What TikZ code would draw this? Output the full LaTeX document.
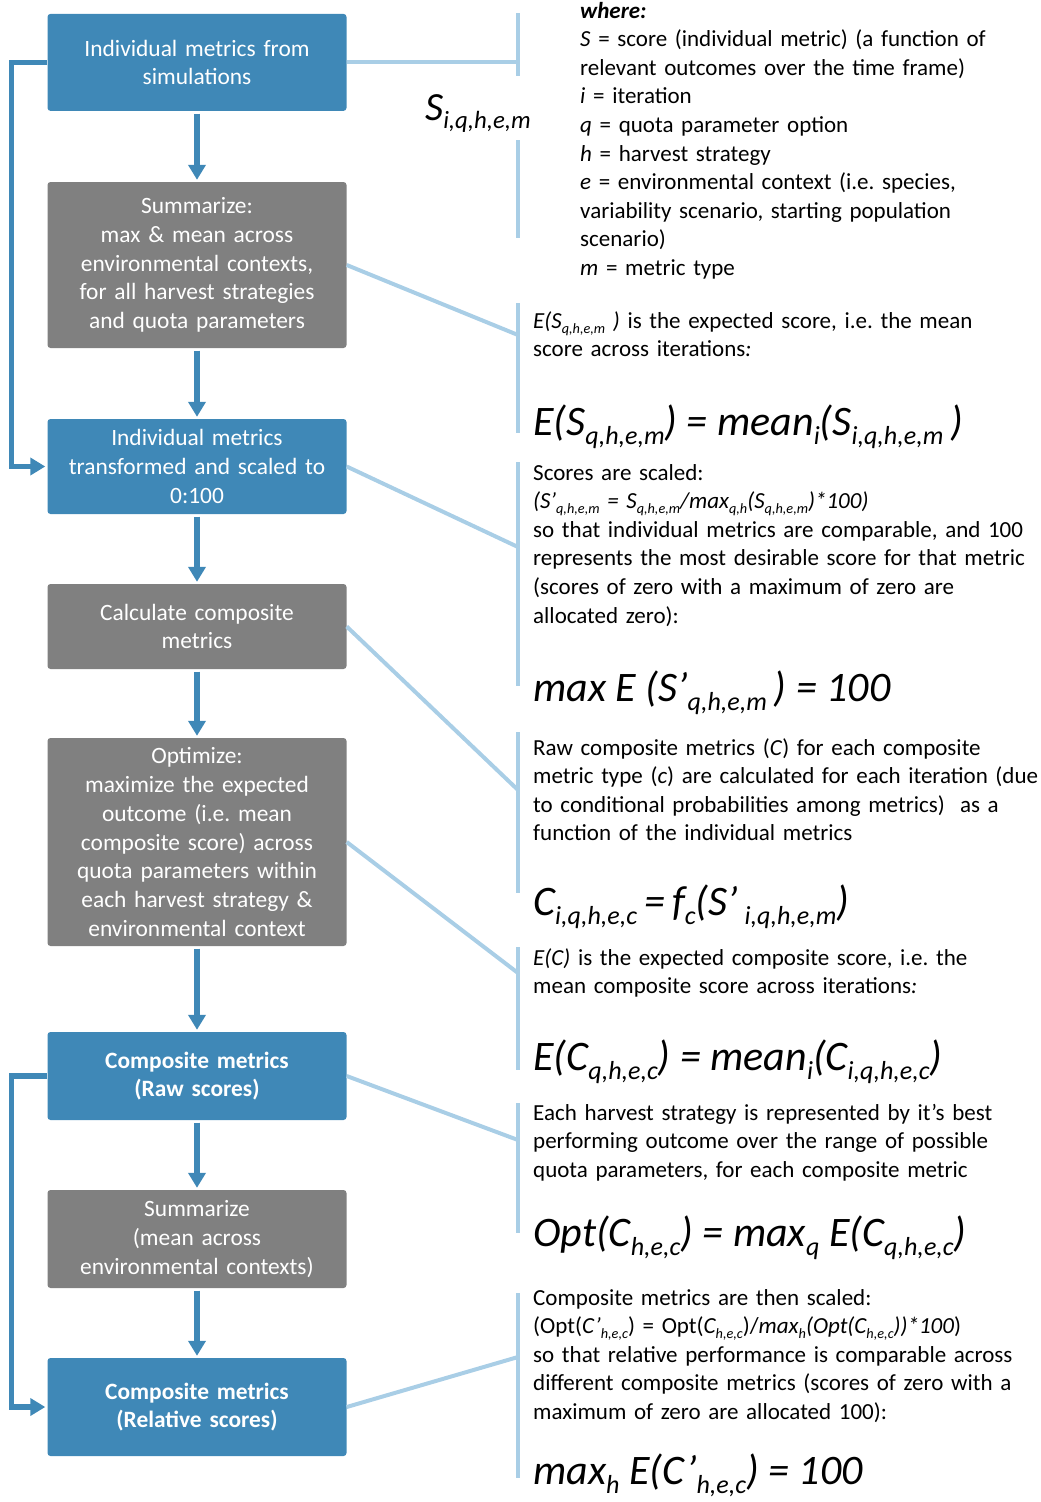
\documentclass[tikz,border=0pt]{standalone}
\usepackage{fontspec}
\setmainfont{Carlito}
\usetikzlibrary{arrows.meta}
\definecolor{boxblue}{HTML}{3F88B7}
\definecolor{boxgrey}{HTML}{808080}
\definecolor{lineblue}{HTML}{A9CEE6}
\makeatletter
\newcommand{\idx}[1]{\raisebox{-0.22em}{\fontsize{\strip@pt\dimexpr\f@size pt*62/100\relax}{0}\selectfont\itshape #1}}
\makeatother
\frenchspacing

\begin{document}
\begin{tikzpicture}[x=1pt, y=-1pt]
\tikzstyle{BoxStyle}=[rounded corners=3pt, inner sep=0pt, minimum width=299pt, text width=297pt, align=center, text=white, font=\fontsize{23.4}{28.7}\selectfont]
\tikzstyle{BlueStyle}=[BoxStyle, fill=boxblue]
\tikzstyle{GreyStyle}=[BoxStyle, fill=boxgrey]
\tikzstyle{FlowStyle}=[draw=boxblue, line width=5.5pt, -{Triangle[width=17pt,length=15pt]}]
\tikzstyle{LinkStyle}=[draw=lineblue, line width=4pt]
\tikzstyle{NoteStyle}=[anchor=base west, inner sep=0pt, text width=600pt, align=left, font=\fontsize{23}{28.6}\selectfont]
\tikzstyle{EqStyle}=[anchor=base west, inner sep=0pt, font=\fontsize{42}{48}\selectfont\itshape]
\useasboundingbox (0,0) rectangle (1041,1502);

% flow boxes
\node[BlueStyle, minimum height=97pt] (b0) at (197,62.4) {Individual metrics from\\simulations};
\node[GreyStyle, minimum height=166pt] (b1) at (197,265) {Summarize:\\max \& mean across\\environmental contexts,\\for all harvest strategies\\and quota parameters};
\node[BlueStyle, minimum height=95pt] (b2) at (197,466.5) {Individual metrics\\transformed and scaled to\\0:100};
\node[GreyStyle, minimum height=85pt] (b3) at (197,626.5) {Calculate composite\\metrics};
\node[GreyStyle, minimum height=208pt] (b4) at (197,842) {Optimize:\\maximize the expected\\outcome (i.e. mean\\composite score) across\\quota parameters within\\each harvest strategy \&\\environmental context};
\node[BlueStyle, minimum height=88pt] (b5) at (197,1076) {\textbf{Composite metrics}\\\textbf{(Raw scores)}};
\node[GreyStyle, minimum height=98pt] (b6) at (197,1239) {Summarize\\(mean across\\environmental contexts)};
\node[BlueStyle, minimum height=98pt] (b7) at (197,1407) {\textbf{Composite metrics}\\\textbf{(Relative scores)}};

\foreach \a/\b in {b0/b1, b1/b2, b2/b3, b3/b4, b4/b5, b5/b6, b6/b7}
  \draw[FlowStyle, shorten <=2.5pt, shorten >=2pt] (\a) -- (\b);
\draw[FlowStyle, shorten >=2pt] (b0.west) -- ++(-36,0) |- (b2.west);
\draw[FlowStyle, shorten >=2pt] (b5.west) -- ++(-36,0) |- (b7.west);

% brackets on the right
\coordinate (k0) at (518,13);
\coordinate (k1) at (518,76);
\coordinate (k2) at (518,140);
\coordinate (k3) at (518,238);
\draw[LinkStyle] (k0) -- (k1) (k2) -- (k3);
\draw[LinkStyle] (b0.east) -- (b0.east -| k0);
\foreach \i/\ya/\yb/\yc in {1/303/335/433, 2/462/547/686, 3/732/790/893, 4/947/973/1070, 5/1103/1140/1233, 6/1293/1357/1478} {
  \coordinate (t\i) at (518,\ya);
  \coordinate (m\i) at (518,\yb);
  \coordinate (u\i) at (518,\yc);
  \draw[LinkStyle] (t\i) -- (u\i);
}
\foreach \a/\i in {b1/1, b2/2, b3/3, b4/4, b5/5, b7/6}
  \draw[LinkStyle] (\a.east) -- (m\i);

\node[EqStyle, font=\fontsize{40}{46}\selectfont\itshape] (lbl) at (425,120) {S\idx{i,q,h,e,m}};

% notes
\node[NoteStyle] (n1) at (580,18) {\textbf{\textit{where:}}\\
\textit{S} = score (individual metric) (a function of\\
relevant outcomes over the time frame)\\
\textit{i} = iteration\\
\textit{q} = quota parameter option\\
\textit{h} = harvest strategy\\
\textit{e} = environmental context (i.e. species,\\
variability scenario, starting population\\
scenario)\\
\textit{m} = metric type};
\node[NoteStyle] (n2) at (533,328) {\textit{E(S\idx{q,h,e,m} )} is the expected score, i.e. the mean\\
score across iterations\textit{:}};
\node[EqStyle] (q1) at (533,435) {E(S\idx{q,h,e,m}) = mean\idx{i}(S\idx{i,q,h,e,m}\,)};
\node[NoteStyle] (n3) at (533,480) {Scores are scaled:\\
\textit{(S’\idx{q,h,e,m} = S\idx{q,h,e,m}/max\idx{q,h}(S\idx{q,h,e,m})*100)}\\
so that individual metrics are comparable, and 100\\
represents the most desirable score for that metric\\
(scores of zero with a maximum of zero are\\
allocated zero):};
\node[EqStyle] (q2) at (533,701) {max E (S’\idx{q,h,e,m}\,) = 100};
\node[NoteStyle] (n4) at (533,755) {Raw composite metrics (\textit{C}) for each composite\\
metric type (\textit{c}) are calculated for each iteration (due\\
to conditional probabilities among metrics)\ \ as a\\
function of the individual metrics};
\node[EqStyle] (q3) at (533,915) {C\idx{i,q,h,e,c}\,=\,f\idx{c}(S’\,\idx{i,q,h,e,m})};
\node[NoteStyle] (n5) at (533,965) {\textit{E(C)} is the expected composite score, i.e. the\\
mean composite score across iterations\textit{:}};
\node[EqStyle] (q4) at (533,1070) {E(C\idx{q,h,e,c}) = mean\idx{i}(C\idx{i,q,h,e,c})};
\node[NoteStyle] (n6) at (533,1120) {Each harvest strategy is represented by it’s best\\
performing outcome over the range of possible\\
quota parameters, for each composite metric};
\node[EqStyle] (q5) at (533,1246) {Opt(C\idx{h,e,c}) = max\idx{q} E(C\idx{q,h,e,c})};
\node[NoteStyle] (n7) at (533,1305) {Composite metrics are then scaled:\\
(Opt(\textit{C’\idx{h,e,c}}) = Opt(\textit{C\idx{h,e,c}})/\textit{max\idx{h}(Opt(C\idx{h,e,c}))*100})\\
so that relative performance is comparable across\\
different composite metrics (scores of zero with a\\
maximum of zero are allocated 100):};
\node[EqStyle] (q6) at (533,1484) {max\idx{h} E(C’\idx{h,e,c}) = 100};
\end{tikzpicture}
\end{document}
